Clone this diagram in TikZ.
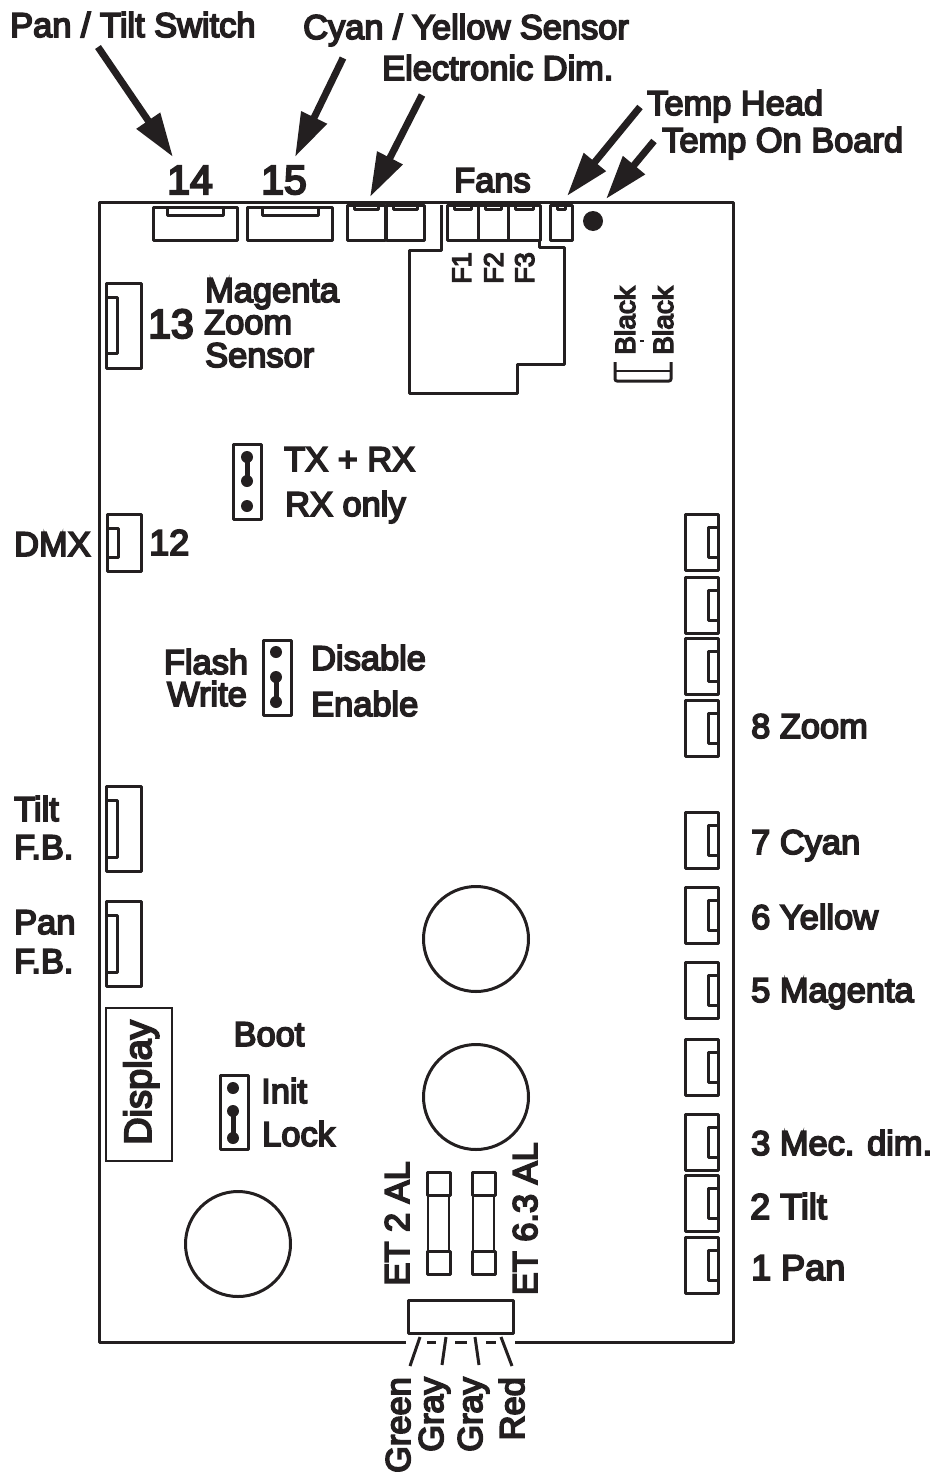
\documentclass[tikz,border=0pt]{standalone}
\usepackage{xcolor}
\usepackage{fontspec}
\usetikzlibrary{arrows.meta}
\newfontfamily\boardfont[FakeBold=5]{Liberation Sans}
\definecolor{ink}{HTML}{231F20}
\tikzset{
	lbl/.style={anchor=base west,inner sep=0pt,text=ink,font=\boardfont\fontsize{34.4}{36}\selectfont},
	lblc/.style={lbl,anchor=base},
	num/.style={lbl,font=\boardfont\fontsize{41}{44}\selectfont},
	up/.style={lbl,rotate=90,anchor=base east},
	small/.style={up,font=\boardfont\fontsize{28}{32}\selectfont},
	part/.style={draw=ink,line width=3pt,line join=round},
	thinpart/.style={draw=ink,line width=1.6pt},
	pointer/.style={draw=ink,line width=7pt,-{Triangle[length=44pt,width=27pt]}},
}
\begin{document}
\begin{tikzpicture}[x=1pt,y=-1pt]
	\useasboundingbox (0,0) rectangle (935,1472);

	% board outline
	\coordinate (bl) at (99,1342);
	\coordinate (tl) at (99,202);
	\coordinate (tr) at (733,202);
	\coordinate (br) at (733,1342);
	\coordinate (gapa) at (406,1342);
	\coordinate (gapb) at (515,1342);
	\draw[part] (gapa) -- (bl) -- (tl) -- (tr) -- (br) -- (gapb);
	\draw[part] (427,1342) -- (436,1342) (455,1342) -- (467,1342) (486,1342) -- (496,1342);

	% top connectors
	\foreach \a/\b/\c/\d in {153/237/167/223,247/332/262/318}
		\draw[part] (\a,207) rectangle (\b,240) (\c,207) -- (\c,215) -- (\d,215) -- (\d,207);
	\foreach \a/\b in {347/385,386/424,447/478,478/508,508/540,550/572}
		\draw[part] (\a,205) rectangle (\b,240) (\a+7,205) -- (\a+7,209) -- (\b-7,209) -- (\b-7,205);
	\fill[ink] (593,221) circle (10);

	% fan area
	\draw[part] (441,205) -- (441,250) -- (409,250) -- (409,393) -- (517,393) -- (517,364) -- (564,364) -- (564,247) -- (539,247) -- (539,240);

	% black bridge
	\draw[part,rounded corners=2pt] (615,362) -- (615,381) -- (671,381) -- (671,362);
	\draw[thinpart] (615,371) -- (671,371);
	\draw[thinpart] (640,341) -- (644,341);

	% left connectors
	\foreach \a/\b/\c/\d/\e in {106/283/368/297/353,107/514/571/528/557,106/786/871/800/857,106/901/986/915/972}
		\draw[part] (\a,\b) rectangle (141,\c) (\a,\d) -- (\a+11,\d) -- (\a+11,\e) -- (\a,\e);

	% right connectors
	\foreach \y in {514,577,638,700,812,887,962,1039,1114,1175,1237}
		\draw[part] (685,\y) rectangle (718,\y+56) (718,\y+13) -- (708,\y+13) -- (708,\y+43) -- (718,\y+43);

	% jumpers
	\foreach \x/\t/\b/\s/\p/\q/\r in {247/444/519/506/457/481/233,276/640/715/652/677/702/263,233/1075/1149/1088/1111/1138/220}
	{
		\draw[part] (\r,\t) rectangle (\r+28,\b);
		\fill[ink] (\x,\s) circle (6) (\x,\p) circle (6) (\x,\q) circle (6);
		\draw[ink,line width=5pt] (\x,\p) -- (\x,\q);
	}

	% display
	\draw[thinpart] (106,1008) rectangle (172,1161);

	% big circles
	\draw[part] (476,939) circle (52.5);
	\draw[part] (476,1097) circle (52.5);
	\draw[part] (238,1244) circle (52.5);

	% fuses
	\foreach \x in {427,472}
	{
		\draw[part] (\x,1172) rectangle (\x+23,1195) (\x,1251) rectangle (\x+23,1274);
		\draw[thinpart] (\x+1,1195) -- (\x+1,1251) (\x+22,1195) -- (\x+22,1251);
	}

	% terminal and wires
	\draw[part] (408,1300) rectangle (513,1333);
	\coordinate (wa) at (420,1337);
	\coordinate (wb) at (446,1337);
	\coordinate (wc) at (475,1337);
	\coordinate (wd) at (501,1337);
	\coordinate (we) at (410,1366);
	\coordinate (wf) at (442,1365);
	\coordinate (wg) at (479,1365);
	\coordinate (wh) at (512,1366);
	\draw[part] (wa) -- (we) (wb) -- (wf) (wc) -- (wg) (wd) -- (wh);

	% arrows
	\node[lbl] (pantilt) at (10,37) {Pan / Tilt Switch};
	\node[lbl] (cyanyellow) at (303,39) {Cyan / Yellow Sensor};
	\node[lbl] (elecdim) at (382,80) {Electronic Dim.};
	\node[lbl] (temphead) at (647,115) {Temp Head};
	\node[lbl] (temponboard) at (662,152) {Temp On Board};
	\node[num] (n14) at (167,194) {14};
	\node[num] (n15) at (261,194) {15};
	\node[lbl] (fans) at (454,192) {Fans};
	\coordinate (aa) at (98,47);
	\coordinate (ab) at (173,157);
	\coordinate (ba) at (343,58);
	\coordinate (bb) at (295,157);
	\coordinate (ca) at (422,95);
	\coordinate (cb) at (370,197);
	\coordinate (da) at (640,107);
	\coordinate (db) at (567,196);
	\coordinate (ea) at (654,141);
	\coordinate (eb) at (606,199);
	\draw[pointer] (aa) -- (ab);
	\draw[pointer] (ba) -- (bb);
	\draw[pointer] (ca) -- (cb);
	\draw[pointer] (da) -- (db);
	\draw[pointer] (ea) -- (eb);

	% rotated labels
	\node[small,font=\boardfont\fontsize{27}{30}\selectfont] (f1) at (471,252) {F1};
	\node[small,font=\boardfont\fontsize{27}{30}\selectfont] (f2) at (503,252) {F2};
	\node[small,font=\boardfont\fontsize{27}{30}\selectfont] (f3) at (534,252) {F3};
	\node[small] (blacka) at (635,286) {Black};
	\node[small] (blackb) at (673,286) {Black};
	\node[up,font=\boardfont\fontsize{38}{40}\selectfont] (display) at (151,1020) {Display};
	\node[up] (fusea) at (409,1161) {ET 2 AL};
	\node[up] (fuseb) at (537,1142) {ET 6.3 AL};
	\node[up] (green) at (410,1377) {Green};
	\node[up] (graya) at (443,1377) {Gray};
	\node[up] (grayb) at (482,1377) {Gray};
	\node[up] (red) at (524,1377) {Red};

	% left side labels
	\node[num] (n13) at (148,338) {13};
	\node[lbl] (magenta) at (205,302) {Magenta};
	\node[lbl] (zoom) at (204,334) {Zoom};
	\node[lbl] (sensor) at (205,367) {Sensor};
	\node[lbl] (txrx) at (284,471) {TX + RX};
	\node[lbl] (rxonly) at (285,516) {RX only};
	\node[lbl] (dmx) at (14,556) {DMX};
	\node[lbl,font=\boardfont\fontsize{36}{38}\selectfont] (n12) at (149,555) {12};
	\node[lblc] (flash) at (206,674) {Flash};
	\node[lblc] (write) at (207,706) {Write};
	\node[lbl] (disable) at (311,670) {Disable};
	\node[lbl] (enable) at (311,716) {Enable};
	\node[lbl] (tilt) at (14,821) {Tilt};
	\node[lbl] (tiltfb) at (14,859) {F.B.};
	\node[lbl] (pan) at (14,934) {Pan};
	\node[lbl] (panfb) at (14,973) {F.B.};
	\node[lblc] (boot) at (269,1046) {Boot};
	\node[lbl] (init) at (261,1103) {Init};
	\node[lbl] (lock) at (262,1146) {Lock};

	% right side labels
	\node[lbl] (zoomr) at (751,738) {8 Zoom};
	\node[lbl] (cyan) at (751,854) {7 Cyan};
	\node[lbl] (yellow) at (751,929) {6 Yellow};
	\node[lbl] (magentar) at (751,1002) {5 Magenta};
	\node[lbl] (mec) at (751,1155) {3 Mec. dim.};
	\node[lbl,font=\boardfont\fontsize{36}{38}\selectfont] (tiltr) at (750,1219) {2 Tilt};
	\node[lbl,font=\boardfont\fontsize{36}{38}\selectfont] (panr) at (751,1280) {1 Pan};

\end{tikzpicture}
\end{document}
